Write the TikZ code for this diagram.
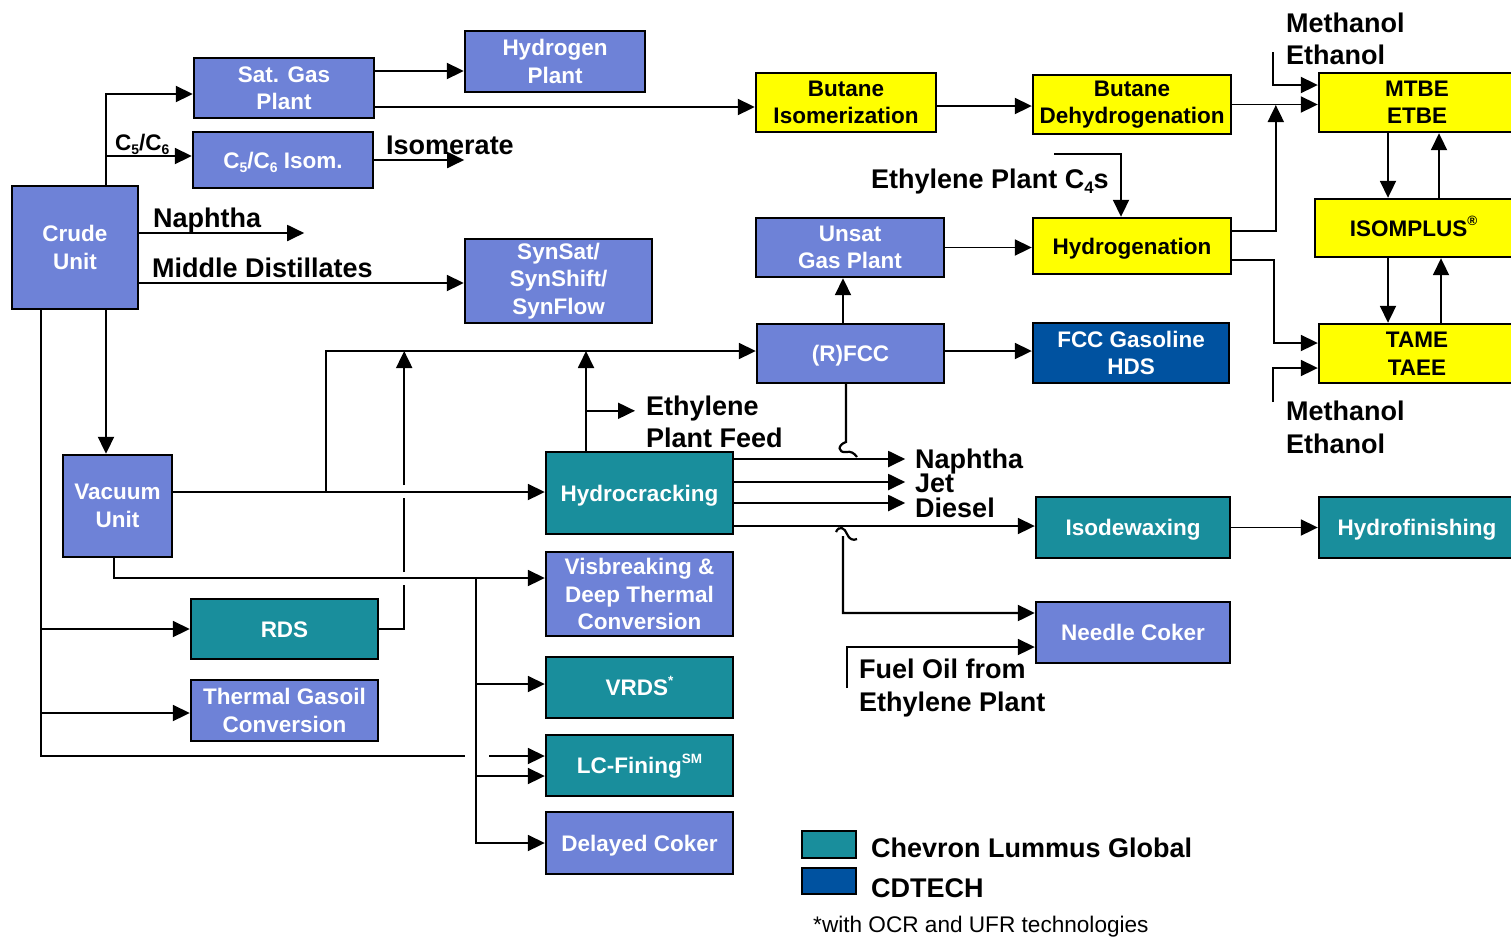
\documentclass[tikz,border=0pt]{standalone}
\usepackage{fontspec}
\setmainfont{Liberation Sans}
\usepackage{graphicx}
\usetikzlibrary{arrows.meta,calc}
\definecolor{cblue}{RGB}{110,130,215}
\definecolor{cteal}{RGB}{25,142,156}
\definecolor{cdblue}{RGB}{0,82,160}
\definecolor{cyel}{RGB}{255,255,0}
\newcommand\bxfont{\fontsize{22.5}{27.5}\selectfont\bfseries}
\newcommand\lbfont{\fontsize{27}{32}\selectfont\bfseries}
\newcommand\lsub[1]{\raisebox{-0.22em}{\scalebox{0.62}{#1}}}
\newcommand\lsup[1]{\raisebox{0.45em}{\scalebox{0.6}{#1}}}
\tikzset{
  box/.style={draw=black, line width=2.4pt, inner sep=0pt, align=center, font=\bxfont},
  onel/.style={text depth=0pt, text height=16pt},
  bluebox/.style={box, fill=cblue, text=white},
  tealbox/.style={box, fill=cteal, text=white},
  yelbox/.style={box, fill=cyel, text=black},
  dbbox/.style={box, fill=cdblue, text=white},
  legbox/.style={draw=black, line width=1.6pt, inner sep=0pt},
  lbl/.style={anchor=base west, inner sep=0pt, font=\lbfont},
  conn/.style={line width=1.9pt},
  arr/.style={conn, -{Triangle[length=17pt,width=16pt]}}
}
\begin{document}
\begin{tikzpicture}[x=1pt,y=-1pt]
\useasboundingbox (0,0) rectangle (1511,938);

% ---------- boxes ----------
\node[bluebox, minimum width=126pt, minimum height=123pt] (crude) at (75,247.5) {Crude\\Unit};
\node[bluebox, minimum width=180pt, minimum height=60pt] (satgas) at (284,88) {Sat. Gas\\Plant};
\node[bluebox, minimum width=180pt, minimum height=61pt] (hydrogen) at (555,61.5) {Hydrogen\\Plant};
\node[bluebox, onel, minimum width=180pt, minimum height=56pt] (isom) at (283,160) {C\lsub{5}/C\lsub{6} Isom.};
\node[bluebox, minimum width=187pt, minimum height=84pt] (synsat) at (558.5,281) {SynSat/\\SynShift/\\SynFlow};
\node[yelbox, minimum width=180pt, minimum height=59pt] (butiso) at (846,102.5) {Butane\\Isomerization};
\node[yelbox, minimum width=198pt, minimum height=59pt] (butdehyd) at (1132,104.5) {Butane\\Dehydrogenation};
\node[yelbox, minimum width=196pt, minimum height=59pt] (mtbe) at (1417,102.5) {MTBE\\ETBE};
\node[yelbox, onel, minimum width=197pt, minimum height=58pt] (isomplus) at (1413.5,228) {ISOMPLUS\lsup{®}};
\node[yelbox, minimum width=196pt, minimum height=59pt] (tame) at (1417,353.5) {TAME\\TAEE};
\node[yelbox, onel, minimum width=198pt, minimum height=56pt] (hydrogenation) at (1132,246) {Hydrogenation};
\node[dbbox, minimum width=196pt, minimum height=60pt] (fcchds) at (1131,353) {FCC Gasoline\\HDS};
\node[bluebox, minimum width=188pt, minimum height=59pt] (unsat) at (850,247.5) {Unsat\\Gas Plant};
\node[bluebox, onel, minimum width=187pt, minimum height=59pt] (rfcc) at (850.5,353.5) {(R)FCC};
\node[tealbox, onel, minimum width=187pt, minimum height=82pt] (hydrocracking) at (639.5,493) {Hydrocracking};
\node[bluebox, minimum width=187pt, minimum height=84pt] (visbreaking) at (639.5,594) {Visbreaking \&\\Deep Thermal\\Conversion};
\node[tealbox, onel, minimum width=187pt, minimum height=61pt] (vrds) at (639.5,687.5) {VRDS\lsup{*}};
\node[tealbox, onel, minimum width=187pt, minimum height=61pt] (lcfining) at (639.5,765.5) {LC-Fining\lsup{SM}};
\node[bluebox, onel, minimum width=187pt, minimum height=62pt] (delayed) at (639.5,843) {Delayed Coker};
\node[bluebox, minimum width=109pt, minimum height=102pt] (vacuum) at (117.5,506) {Vacuum\\Unit};
\node[tealbox, onel, minimum width=187pt, minimum height=60pt] (rds) at (284.5,629) {RDS};
\node[bluebox, minimum width=187pt, minimum height=61pt] (thermal) at (284.5,710.5) {Thermal Gasoil\\Conversion};
\node[tealbox, onel, minimum width=194pt, minimum height=61pt] (isodewax) at (1133,527.5) {Isodewaxing};
\node[tealbox, onel, minimum width=196pt, minimum height=61pt] (hydrofin) at (1417,527.5) {Hydrofinishing};
\node[bluebox, onel, minimum width=194pt, minimum height=61pt] (needle) at (1133,632.5) {Needle Coker};

% ---------- legend ----------
\node[legbox, fill=cteal, minimum width=54pt, minimum height=27pt] (legteal) at (829,844.5) {};
\node[legbox, fill=cdblue, minimum width=54pt, minimum height=26pt] (legdb) at (829,881) {};
\node[lbl, font=\fontsize{27}{30}\selectfont\bfseries] (legt1) at (871,857) {Chevron Lummus Global};
\node[lbl, font=\fontsize{27}{30}\selectfont\bfseries] (legt2) at (871,897) {CDTECH};
\node[lbl, font=\fontsize{22.6}{25}\selectfont] (foot) at (813,932) {*with OCR and UFR technologies};

% ---------- labels ----------
\node[lbl, font=\fontsize{22.5}{26}\selectfont\bfseries] (lc56) at (115,150) {C\lsub{5}/C\lsub{6}};
\node[lbl] (lisomerate) at (386,154) {Isomerate};
\node[lbl] (lnaph1) at (153,227) {Naphtha};
\node[lbl] (lmid) at (152,277) {Middle Distillates};
\node[lbl] (lmeth1) at (1286,32) {Methanol};
\node[lbl] (leth1) at (1286,64) {Ethanol};
\node[lbl] (lmeth2) at (1286,420) {Methanol};
\node[lbl] (leth2) at (1286,453) {Ethanol};
\node[lbl] (lc4) at (871,188) {Ethylene Plant C\lsub{4}s};
\node[lbl] (lethy) at (646,415) {Ethylene};
\node[lbl] (lpfeed) at (646,447) {Plant Feed};
\node[lbl] (lnaph2) at (915,468) {Naphtha};
\node[lbl] (ljet) at (915,492) {Jet};
\node[lbl] (ldiesel) at (915,517) {Diesel};
\node[lbl] (lfuel1) at (859,678) {Fuel Oil from};
\node[lbl] (lfuel2) at (859,711) {Ethylene Plant};

% ---------- free ends ----------
\coordinate (meth1) at (1273,52);
\coordinate (meth2) at (1273,402);
\coordinate (c4in) at (1054,154);
\coordinate (fuelin) at (847,688);
\coordinate (rfccin) at ([yshift=2.5pt]rfcc.west);
\coordinate (cv) at ([xshift=31pt]crude.north);
\coordinate (isomin) at ([yshift=4pt]isom.west);
\coordinate (visin) at ([yshift=16pt]visbreaking.west);
\coordinate (vx) at ([xshift=-69pt]visin);
\coordinate (vrdsin) at ([yshift=3.5pt]vrds.west);
\coordinate (lcin1) at ([yshift=9.5pt]lcfining.west);
\coordinate (lcin2) at ([yshift=-10.5pt]lcfining.west);
\coordinate (cl) at ([xshift=-34pt]crude.south);
\coordinate (thin) at ([yshift=-2.5pt]thermal.west);

% ---------- connectors ----------
\draw[arr] (cv) |- ([yshift=-6pt]satgas.west);
\draw[arr] (cv |- isomin) -- (isomin);
\draw[arr] ([yshift=17pt]satgas.east) coordinate (a) -- (a -| hydrogen.west);
\draw[arr] ([yshift=-19pt]satgas.east) coordinate (a) -- (a -| butiso.west);
\draw[arr] (isom.east) -- ++(90,0);
\draw[arr] ([yshift=14.5pt]crude.east) -- ++(165,0);
\draw[arr] ([yshift=-35.5pt]crude.east) coordinate (a) -- (a -| synsat.west);
\draw[arr] ([yshift=-3.5pt]butiso.east) coordinate (a) -- (a -| butdehyd.west);
\draw[arr] (butdehyd.east) coordinate (a) -- (a -| mtbe.west);
\draw[arr] (meth1) |- ([yshift=17.5pt]mtbe.west);
\draw[arr] ([yshift=15pt]hydrogenation.east) -| ([xshift=-42pt,yshift=-2.5pt]mtbe.west);
\draw[arr] ([yshift=-14pt]hydrogenation.east) -- ++(42,0) |- ([yshift=10.5pt]tame.west);
\draw[arr] (meth2) |- ([yshift=-14.5pt]tame.west);
\draw[arr] ([xshift=-29pt]mtbe.south) coordinate (a) -- (a |- isomplus.north);
\draw[arr] ([xshift=25.5pt]isomplus.north) coordinate (a) -- (a |- mtbe.south);
\draw[arr] ([xshift=-25.5pt]isomplus.south) coordinate (a) -- (a |- tame.north);
\draw[arr] ([xshift=24pt]tame.north) coordinate (a) -- (a |- isomplus.south);
\draw[arr] (c4in) -| ([xshift=-11pt]hydrogenation.north);
\draw[arr] (unsat.east) coordinate (a) -- (a -| hydrogenation.west);
\draw[arr] ([xshift=-7.5pt]rfcc.north) coordinate (a) -- (a |- unsat.south);
\draw[arr] (rfccin -| rfcc.east) -- (rfccin -| fcchds.west);
\draw[arr] ([yshift=14pt]vacuum.east) coordinate (a) -- (a -| hydrocracking.west);
\draw[arr] ([xshift=153pt,yshift=14pt]vacuum.east) |- (rfccin);
\draw[arr] (rds.east) -- ++(25,0) -- ++(0,-44) ++(0,-13) -- ++(0,-74) ++(0,-13) coordinate (b) -- (b |- rfccin);
\draw[arr] ([xshift=-53.5pt]hydrocracking.north) coordinate (a) -- (a |- rfccin);
\draw[arr] ([xshift=-53.5pt,yshift=40pt]hydrocracking.north) -- ++(49,0);
\draw[arr] ([yshift=34pt]hydrocracking.east) -- ++(171,0);
\draw[arr] ([yshift=11pt]hydrocracking.east) -- ++(171,0);
\draw[arr] ([yshift=-10pt]hydrocracking.east) -- ++(171,0);
\draw[arr] ([yshift=-33pt]hydrocracking.east) coordinate (a) -- (a -| isodewax.west);
\draw[arr] (isodewax.east) coordinate (a) -- (a -| hydrofin.west);
\draw[arr, line width=2.2pt] ([xshift=-4.5pt]rfcc.south) -- (846,442)
   .. controls (837,445) and (838,453) .. (846,452)
   .. controls (851,451) and (854,453) .. (857,457)
   (836,532) .. controls (839,525) and (845,528) .. (847,534)
   .. controls (849,539) and (853,541) .. (857,539)
   (843,536) |- ([yshift=19.5pt]needle.west);
\draw[arr] (fuelin) |- ([yshift=-14.5pt]needle.west);
\draw[arr] ([xshift=31pt]crude.south) coordinate (a) -- (a |- vacuum.north);
\draw[arr] (cl) |- (465,756) (489,756) -- (lcin1);
\draw[arr] (cl |- rds.west) -- (rds.west);
\draw[arr] (cl |- thin) -- (thin);
\draw[arr] ([xshift=-3.5pt]vacuum.south) |- (visin);
\draw[arr] (vx) |- (delayed.west);
\draw[arr] (vx |- vrdsin) -- (vrdsin);
\draw[arr] (vx |- lcin2) -- (lcin2);
\end{tikzpicture}
\end{document}
